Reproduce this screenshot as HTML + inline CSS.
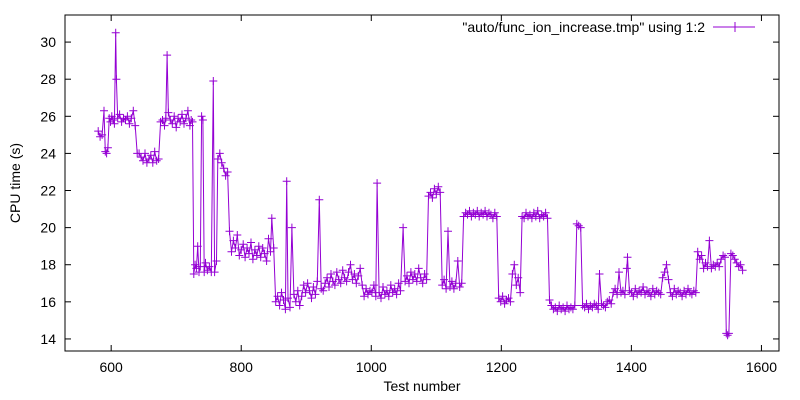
<!DOCTYPE html>
<html><head><meta charset="utf-8"><style>
body{margin:0;background:#fff;}
svg{display:block;font-family:"Liberation Sans",sans-serif;}
</style></head><body>
<svg id="chart" width="800" height="400">
<rect x="0" y="0" width="800" height="400" fill="#fff"/>
<g id="axes"></g>
<g id="series"></g>
<text x="20" y="183" transform="rotate(-90 20 183)" text-anchor="middle" font-size="14">CPU time (s)</text>
<text x="422" y="391" text-anchor="middle" font-size="14">Test number</text>
<g>
<text x="705" y="32" text-anchor="end" font-size="14">"auto/func_ion_increase.tmp" using 1:2</text>
<line x1="713" y1="27" x2="755" y2="27" stroke="#9400d3" stroke-width="1"/>
<line x1="730" y1="27" x2="740" y2="27" stroke="#9400d3"/><line x1="735" y1="22" x2="735" y2="32" stroke="#9400d3"/>
</g>
</svg>
<script>
const xTicks=[600,800,1000,1200,1400,1600];
const yTicks=[14,16,18,20,22,24,26,28,30];
const testNums=[
580,583,586,589,591,593,595,597,599,601,603,605,607,608,
610,613,616,619,622,625,628,631,634,637,
640,643,646,649,652,655,658,661,664,667,670,673,
676,679,682,684,686,688,691,694,697,700,703,706,709,712,715,718,721,723,725,
727,729,731,733,735,737,739,741,743,745,748,751,754,757,759,762,764,767,770,773,776,779,
782,785,788,791,794,797,800,803,806,809,812,815,818,821,824,827,830,833,836,839,842,845,847,850,
853,856,859,862,865,868,870,872,875,878,881,884,887,890,893,896,899,902,905,908,911,914,917,920,923,926,929,932,935,938,941,944,947,950,953,956,959,962,965,968,971,974,977,980,983,986,989,992,995,998,1001,1004,1007,1009,
1012,1015,1018,1021,1024,1027,1030,1033,1036,1039,1042,1045,1049,1052,1055,1058,1061,1064,1067,1070,1073,1076,1079,1082,1085,
1088,1091,1094,1097,1100,1103,1106,
1109,1112,1115,1118,1121,1124,1127,1130,1133,1136,1139,
1142,1145,1148,1151,1154,1157,1160,1163,1166,1169,1172,1175,1178,1181,1184,1187,1190,1193,
1196,1199,1202,1205,1208,1211,1214,1217,1220,1223,1226,1229,
1232,1235,1238,1241,1244,1247,1250,1253,1256,1259,1262,1265,1268,1271,
1274,1277,1280,1283,1286,1289,1292,1295,1298,1301,1304,1307,1310,1313,
1316,1319,1322,
1325,1328,1331,1334,1337,1340,1343,1346,1349,1351,
1354,1357,1360,1363,1366,1369,1372,1375,1378,1381,
1384,1387,1390,1393,1394,1397,1400,1403,1406,1409,
1412,1415,1418,1421,1424,1427,1430,1433,1436,1439,
1442,1445,1448,1451,1454,1457,1460,1463,1466,1469,
1472,1475,1478,1481,1484,1487,1490,1493,1496,1499,
1502,1505,1508,1511,1514,1517,1520,1523,1526,1529,
1532,1535,1538,1541,1544,1546,1548,1550,1553,1556,
1559,1562,1565,1568,1571];
const cpuTimes=[
25.2,24.9,25.0,26.3,24.1,24.0,24.3,25.9,25.7,26.0,25.8,25.6,30.5,28.0,
25.9,26.1,25.7,25.9,25.8,26.0,25.6,25.9,26.3,25.5,
24.0,24.0,23.8,23.6,24.0,23.5,23.7,23.9,23.5,24.1,23.6,23.7,
25.7,25.8,25.5,25.9,29.3,26.2,25.8,25.6,26.0,25.4,25.9,25.7,26.1,25.6,25.9,26.3,25.5,25.8,25.7,
17.5,18.0,17.8,19.0,17.6,17.9,26.0,25.8,17.6,18.1,17.7,17.9,17.6,27.9,17.6,18.2,23.7,24.0,23.5,23.2,22.8,23.0,
19.8,18.7,19.3,18.9,19.6,18.5,18.8,19.1,18.4,18.9,18.6,19.2,18.3,18.8,18.5,19.0,18.4,18.9,18.6,18.2,19.4,18.7,20.5,18.9,
16.0,16.3,15.8,16.5,16.1,15.6,22.5,16.2,15.7,20.0,16.4,16.0,16.6,15.8,16.3,16.9,16.5,17.0,16.6,16.2,16.8,16.4,17.1,21.5,16.7,16.6,17.0,17.3,16.8,17.5,17.1,16.9,17.6,17.2,17.0,17.7,17.3,17.1,17.6,18.0,17.2,17.5,17.0,17.4,17.8,16.9,16.3,16.7,16.4,16.6,16.5,16.9,16.3,22.4,
16.5,16.2,16.8,16.4,16.6,16.3,16.9,16.5,16.7,16.4,17.0,16.6,20.0,17.1,17.4,17.0,17.6,17.2,17.5,17.1,17.8,17.3,17.0,17.5,17.2,
21.7,21.9,21.6,22.1,21.8,22.2,21.9,
16.9,17.2,16.7,19.8,16.8,17.1,16.7,17.0,18.2,16.8,17.0,
20.6,20.8,20.7,20.9,20.6,20.8,20.7,20.9,20.6,20.8,20.7,20.9,20.6,20.8,20.7,20.5,20.8,20.6,
16.2,16.0,16.3,15.9,16.1,16.2,16.0,17.5,18.0,16.9,17.3,16.5,
20.6,20.5,20.8,20.6,20.7,20.5,20.8,20.6,20.9,20.5,20.7,20.6,20.8,20.5,
16.1,15.8,15.6,15.7,15.5,15.8,15.6,15.7,15.5,15.8,15.6,15.7,15.6,15.8,
20.2,20.1,20.0,
15.8,15.7,15.9,15.6,15.8,15.7,15.9,15.8,15.6,17.5,
15.9,15.8,15.7,16.0,16.1,15.9,16.5,16.7,16.4,17.6,
16.5,16.6,16.4,17.8,18.4,16.6,16.5,16.3,16.7,16.4,
16.6,16.5,16.8,16.4,16.6,16.5,16.3,16.7,16.4,16.6,
16.5,16.4,17.3,17.6,18.0,17.2,16.5,16.3,16.7,16.4,
16.6,16.5,16.3,16.6,16.4,16.7,16.5,16.4,16.6,16.5,
18.7,18.3,18.5,17.8,18.1,17.9,19.3,17.8,18.0,17.9,
18.1,17.9,18.3,18.5,18.4,14.3,14.2,14.3,18.6,18.5,
18.3,18.1,17.9,18.0,17.7];
const NS="http://www.w3.org/2000/svg";
const L=65,R=779,T=15,B=351;
const xMin=529,xMax=1627,yMin=13.35,yMax=31.46;
function xs(v){return L+(v-xMin)/(xMax-xMin)*(R-L);}
function ys(v){return B-(v-yMin)/(yMax-yMin)*(B-T);}
const C="#9400d3";
const axes=document.getElementById('axes');
function mk(tag,attrs,parent){const e=document.createElementNS(NS,tag);for(const k in attrs)e.setAttribute(k,attrs[k]);parent.appendChild(e);return e;}
const frame=mk('rect',{x:L,y:T,width:R-L,height:B-T,fill:'none',stroke:'#000','stroke-width':1},axes);


xTicks.forEach(v=>{const x=xs(v);
 mk('line',{x1:x,y1:B,x2:x,y2:B-6,stroke:'#000'},axes);
 mk('line',{x1:x,y1:T,x2:x,y2:T+6,stroke:'#000'},axes);
 const t=mk('text',{x:x,y:B+21,'text-anchor':'middle','font-size':14},axes);t.textContent=v;
 
 
});
yTicks.forEach(v=>{const y=ys(v);
 mk('line',{x1:L,y1:y,x2:L+6,y2:y,stroke:'#000'},axes);
 mk('line',{x1:R,y1:y,x2:R-6,y2:y,stroke:'#000'},axes);
 const t=mk('text',{x:L-9,y:y+5,'text-anchor':'end','font-size':14},axes);t.textContent=v;
 
 
});
const g=document.getElementById('series');
const n=Math.min(testNums.length,cpuTimes.length);
let d='';
for(let i=0;i<n;i++){d+=(i?'L':'M')+xs(testNums[i]).toFixed(1)+' '+ys(cpuTimes[i]).toFixed(1);}
const line=mk('path',{d:d,fill:'none',stroke:C,'stroke-width':1},g);


let pd='';
for(let i=0;i<n;i++){const x=xs(testNums[i]),y=ys(cpuTimes[i]);pd+=`M${(x-4).toFixed(1)} ${y.toFixed(1)}h8M${x.toFixed(1)} ${(y-4).toFixed(1)}v8`;}
const pts=mk('path',{d:pd,fill:'none',stroke:C,'stroke-width':1},g);


</script>
</body></html>
